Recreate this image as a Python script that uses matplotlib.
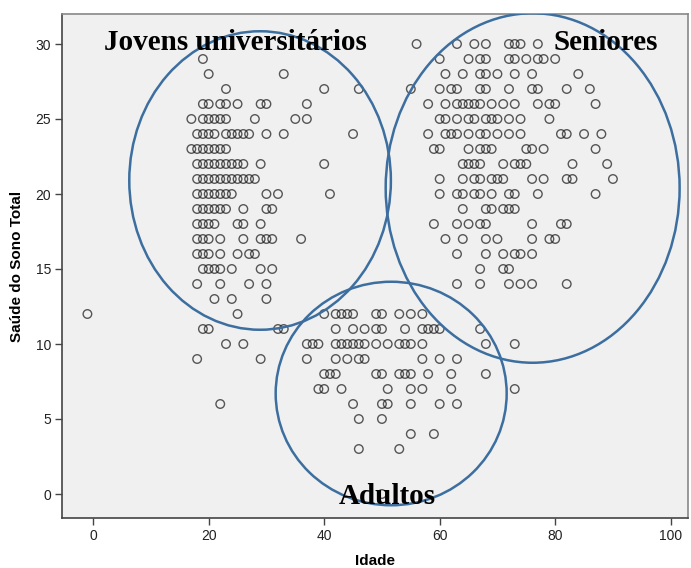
import matplotlib
matplotlib.use("Agg")
import matplotlib.pyplot as plt
from matplotlib.patches import Ellipse
import numpy as np

# ---- data: score rows -> list of ages ----
rows_jovens = {
    29: [19],
    28: [20, 33],
    27: [23, 40, 46],
    26: [19, 20, 22, 23, 25, 29, 30, 37],
    25: [17, 19, 20, 21, 22, 23, 28, 35, 37],
    24: [18, 19, 20, 21, 23, 24, 25, 26, 27, 30, 33, 45],
    23: [17, 18, 19, 20, 21, 22, 23],
    22: [18, 19, 20, 21, 22, 23, 24, 25, 26, 29, 40],
    21: [18, 19, 20, 21, 22, 23, 24, 25, 26, 27, 28],
    20: [18, 19, 20, 21, 22, 23, 24, 30, 32, 41],
    19: [18, 19, 20, 21, 22, 23, 26, 30, 31],
    18: [18, 19, 20, 21, 25, 26, 29],
    17: [18, 19, 20, 22, 26, 29, 30, 31, 36],
    16: [18, 19, 20, 22, 25, 27, 28],
    15: [19, 20, 21, 22, 24, 29, 31],
    14: [18, 22, 27, 30],
    13: [21, 24, 30],
    12: [-1, 25],
    11: [19, 20, 32, 33],
    10: [23, 26],
    9: [18, 29],
    6: [22],
}
rows_adultos = {
    12: [40, 42, 43, 44, 45, 49, 50, 53, 55, 57],
    11: [42, 45, 47, 49, 50, 54, 57, 58, 59, 60, 67],
    10: [37, 38, 39, 42, 43, 44, 45, 46, 47, 49, 51, 53, 54, 55, 57, 68, 73],
    9: [37, 42, 44, 46, 47, 57, 60, 63],
    8: [40, 41, 42, 49, 50, 53, 54, 55, 58, 62, 68],
    7: [39, 40, 43, 51, 55, 57, 62, 73],
    6: [45, 50, 51, 55, 60, 63],
    5: [46, 50],
    4: [55, 59],
    3: [46, 53],
    0: [50],
}
rows_seniores = {
    30: [56, 63, 66, 68, 72, 73, 74, 77],
    29: [60, 65, 67, 68, 72, 73, 75, 77, 78, 80],
    28: [61, 64, 67, 68, 70, 73, 76, 84],
    27: [55, 60, 62, 63, 67, 68, 72, 76, 77, 82, 86],
    26: [58, 61, 63, 64, 65, 66, 67, 69, 71, 73, 77, 79, 80, 87],
    25: [60, 61, 63, 65, 66, 68, 69, 70, 72, 74, 79],
    24: [58, 61, 62, 63, 65, 67, 68, 70, 72, 74, 81, 82, 85, 88],
    23: [59, 60, 65, 67, 68, 69, 75, 76, 78, 87],
    22: [64, 65, 66, 67, 71, 73, 74, 75, 83, 89],
    21: [60, 64, 66, 67, 69, 70, 71, 76, 78, 82, 83, 90],
    20: [60, 63, 64, 66, 67, 69, 72, 73, 77, 87],
    19: [64, 68, 69, 71, 72, 73],
    18: [59, 63, 65, 67, 68, 76, 81, 82],
    17: [61, 64, 68, 70, 76, 79, 80],
    16: [63, 68, 71, 73, 74, 76],
    15: [67, 71, 72],
    14: [63, 67, 72, 74, 76, 82],
}

x_ticks = [0, 20, 40, 60, 80, 100]
y_ticks = [0, 5, 10, 15, 20, 25, 30]
x_label = "Idade"
y_label = "Saúde do Sono Total"

groups = ["Jovens universitários", "Seniores", "Adultos"]
group_ellipses = {  # center x, center y, width, height (data units)
    "Jovens universitários": (28.9, 20.9, 45.3, 19.9),
    "Seniores": (76.1, 20.4, 50.9, 23.3),
    "Adultos": (51.6, 6.7, 40.0, 14.9),
}
group_label_pos = {
    "Jovens universitários": (24.7, 30.1),
    "Seniores": (88.8, 30.1),
    "Adultos": (51.0, -0.2),
}

ages, scores = [], []
for rows in (rows_jovens, rows_adultos, rows_seniores):
    for s, lst in rows.items():
        for a in lst:
            ages.append(a)
            scores.append(s)

fig = plt.figure(figsize=(6.91, 5.68), dpi=100)
ax = fig.add_axes([62 / 691, 50 / 568, 626 / 691, 504 / 568])
ax.set_facecolor("#f0f0f0")

ax.scatter(ages, scores, s=38, facecolors="none", edgecolors="#222222",
           linewidths=1.0, alpha=0.75, zorder=3)

for g in groups:
    cx, cy, w, h = group_ellipses[g]
    ax.add_patch(Ellipse((cx, cy), w, h, fill=False, edgecolor="#3c6e9f",
                         linewidth=1.8, zorder=4))
    tx, ty = group_label_pos[g]
    ax.text(tx, ty, g, ha="center", va="center", fontsize=21, fontweight="bold",
            family=["Liberation Serif", "DejaVu Serif"], color="black", zorder=5)

ax.set_xlim(-5.4, 103)
ax.set_ylim(-1.6, 32)
ax.set_xticks(x_ticks)
ax.set_yticks(y_ticks)
tick_font = ["Liberation Sans Narrow", "Liberation Sans", "DejaVu Sans"]
ax.set_xticklabels([str(v) for v in x_ticks], family=tick_font, fontsize=10)
ax.set_yticklabels([str(v) for v in y_ticks], family=tick_font, fontsize=10)
ax.tick_params(direction="out", length=5, width=1, color="#444444", labelcolor="#222222", pad=3)
ax.set_xlabel(x_label, family=tick_font, fontsize=11, fontweight="bold", labelpad=8)
ax.set_ylabel(y_label, family=tick_font, fontsize=11, fontweight="bold", labelpad=8)
for sp in ["left", "bottom"]:
    ax.spines[sp].set_color("#444444")
    ax.spines[sp].set_linewidth(1.2)
for sp in ["top", "right"]:
    ax.spines[sp].set_color("#888888")
    ax.spines[sp].set_linewidth(1.2)

fig.savefig("out.png", dpi=100)
